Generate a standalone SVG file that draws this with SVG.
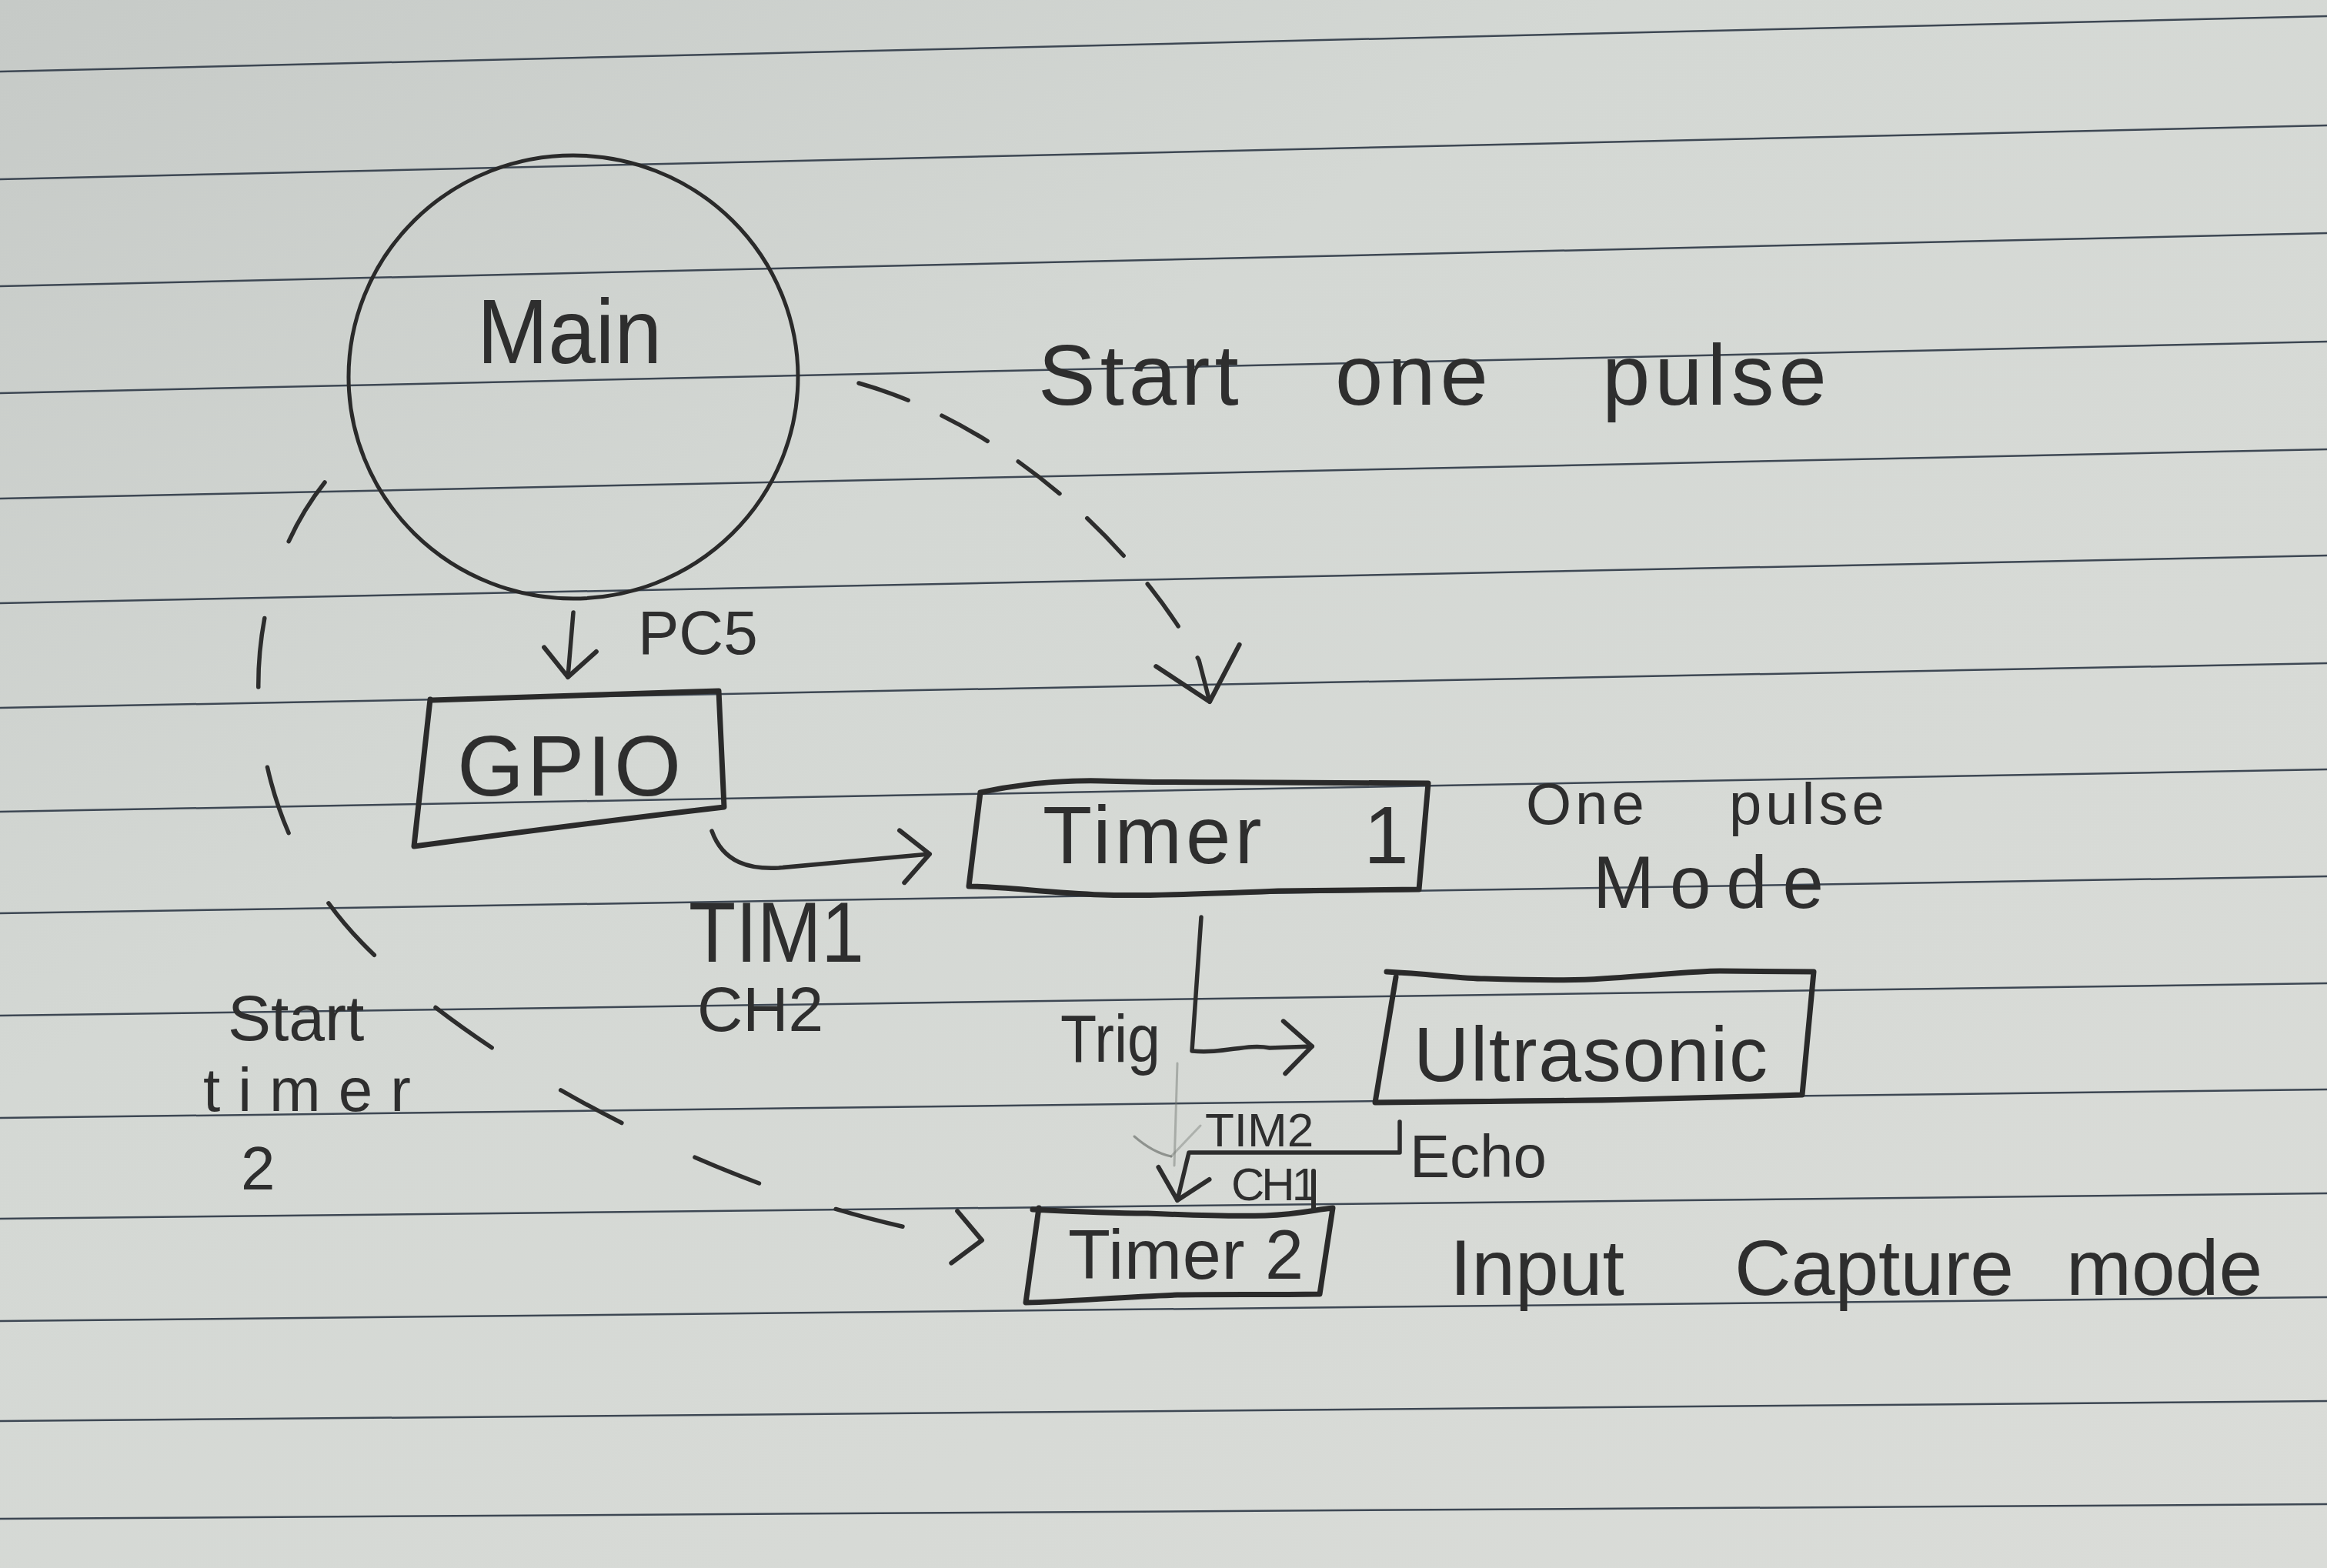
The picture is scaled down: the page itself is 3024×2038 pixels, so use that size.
<svg xmlns="http://www.w3.org/2000/svg" width="3024" height="2038" viewBox="0 0 3024 2038">
<defs>
<linearGradient id="paper" x1="0" y1="0" x2="1" y2="1">
<stop offset="0" stop-color="#c6cac7"/>
<stop offset="0.35" stop-color="#d4d8d4"/>
<stop offset="1" stop-color="#dadcd8"/>
</linearGradient>
<marker id="arrow" viewBox="-70 -70 80 140" refX="0" refY="0" markerWidth="80" markerHeight="140" markerUnits="userSpaceOnUse" orient="auto">
<path class="head" d="M-36,-34 L0,0 L-36,34"/>
</marker>
<marker id="arrow-lg" viewBox="-90 -90 100 180" refX="0" refY="0" markerWidth="100" markerHeight="180" markerUnits="userSpaceOnUse" orient="auto">
<path class="head" d="M-62,-56 L0,0 L-62,56"/>
</marker>
<style>
.rule{stroke:#3d4753;stroke-width:2.5;fill:none}
.box{fill:none;stroke:#2a2a2a;stroke-width:7;stroke-linejoin:round;stroke-linecap:round}
.conn{fill:none;stroke:#2d2d2d;stroke-width:5.5;stroke-linecap:round;stroke-linejoin:round}
.dash-s{stroke-dasharray:68 48}
.dash-l{stroke-dasharray:90 105}
.head{fill:none;stroke:#2d2d2d;stroke-width:6;stroke-linecap:round;stroke-linejoin:round}
.hw{font-family:"Liberation Sans","DejaVu Sans",sans-serif;fill:#2e2e2e}
.pencil{fill:none;stroke:#6f736f;stroke-width:3;stroke-linecap:round}
</style>
</defs>

<rect x="0" y="0" width="3024" height="2038" fill="url(#paper)"/>

<g id="paper-lines">
<line class="rule" x1="0" y1="93" x2="3024" y2="21"/>
<line class="rule" x1="0" y1="233" x2="3024" y2="163"/>
<line class="rule" x1="0" y1="372" x2="3024" y2="303"/>
<line class="rule" x1="0" y1="511" x2="3024" y2="444"/>
<line class="rule" x1="0" y1="648" x2="3024" y2="584"/>
<line class="rule" x1="0" y1="784" x2="3024" y2="722"/>
<line class="rule" x1="0" y1="920" x2="3024" y2="862"/>
<line class="rule" x1="0" y1="1055" x2="3024" y2="1000"/>
<line class="rule" x1="0" y1="1187" x2="3024" y2="1139"/>
<line class="rule" x1="0" y1="1320" x2="3024" y2="1278"/>
<line class="rule" x1="0" y1="1453" x2="3024" y2="1416"/>
<line class="rule" x1="0" y1="1584" x2="3024" y2="1551"/>
<line class="rule" x1="0" y1="1717" x2="3024" y2="1686"/>
<line class="rule" x1="0" y1="1847" x2="3024" y2="1821"/>
<line class="rule" x1="0" y1="1974" x2="3024" y2="1955"/>
</g>

<g id="node-main">
<ellipse class="box" cx="745" cy="490" rx="292" ry="288" style="stroke-width:5"/>
<text class="hw" x="620" y="472" font-size="118" textLength="240" lengthAdjust="spacingAndGlyphs">Main</text>
</g>

<g id="node-gpio">
<path class="box" d="M562,910 L934,898 L941,1049 Q760,1070 538,1100 L559,909"/>
<text class="hw" x="594" y="1034" font-size="112" textLength="291" lengthAdjust="spacing">GPIO</text>
</g>

<g id="node-timer1">
<path class="box" d="M1274,1030 C1330,1018 1380,1014 1431,1015 C1520,1018 1600,1016 1653,1017 L1856,1018 L1844,1156 C1760,1157 1700,1158 1661,1158 C1560,1162 1480,1165 1431,1163 C1360,1160 1300,1152 1259,1152 L1274,1030"/>
<text class="hw" x="1355" y="1122" font-size="105" letter-spacing="5">Timer<tspan x="1738"> 1</tspan></text>
</g>

<g id="node-ultrasonic">
<path class="box" d="M1802,1263 C1860,1266 1900,1272 1929,1272 C1990,1274 2040,1275 2082,1272 C2150,1268 2200,1262 2235,1262 L2357,1263 L2342,1423 C2250,1426 2150,1428 2082,1430 L1787,1433 L1814,1270"/>
<text class="hw" x="1837" y="1405" font-size="100" textLength="460" lengthAdjust="spacing">Ultrasonic</text>
</g>

<g id="node-timer2">
<path class="box" d="M1342,1572 C1400,1575 1450,1577 1491,1577 C1560,1580 1610,1581 1644,1580 C1690,1578 1710,1572 1732,1570 L1715,1682 C1650,1683 1580,1682 1530,1683 C1450,1686 1390,1692 1333,1693 L1350,1570"/>
<text class="hw" x="1388" y="1662" font-size="90" textLength="306" lengthAdjust="spacing">Timer 2</text>
</g>

<g id="connectors">
<path id="edge-main-timer1" class="conn dash-s" d="M1116,498 C1300,550 1470,700 1558,858 L1572,912" marker-end="url(#arrow-lg)"/>
<path id="edge-main-gpio" class="conn" d="M745,796 L738,880" marker-end="url(#arrow)"/>
<path id="edge-gpio-timer1" class="conn" d="M925,1080 C940,1122 975,1130 1012,1128 L1208,1110" marker-end="url(#arrow)"/>
<path id="edge-timer1-ultrasonic" class="conn" d="M1561,1192 L1549,1366 C1590,1370 1620,1356 1650,1362 L1705,1360" marker-end="url(#arrow)"/>
<path id="edge-ultrasonic-timer2" class="conn" d="M1819,1458 L1819,1498 L1545,1498 L1530,1560" marker-end="url(#arrow)"/>
<line id="edge-ch-tick" class="conn" x1="1707" y1="1522" x2="1707" y2="1572" style="stroke-width:6"/>
<path id="edge-main-timer2" class="conn dash-l" d="M422,627 C300,780 300,1050 470,1225 S1000,1580 1276,1612" marker-end="url(#arrow)"/>
</g>

<g id="pencil-marks">
<path class="pencil" d="M1530,1382 L1526,1515" opacity="0.45"/>
<path class="pencil" d="M1474,1477 Q1498,1498 1522,1503" opacity="0.7"/>
<path class="pencil" d="M1522,1503 Q1542,1482 1560,1463" opacity="0.4"/>
</g>

<g id="connector-labels">
<text class="hw" x="1349" y="526" font-size="112" letter-spacing="6">Start <tspan x="1735">one</tspan> <tspan x="2082">pulse</tspan></text>
<text class="hw" x="829" y="850" font-size="80">PC5</text>
<text class="hw" x="895" y="1250" font-size="112" textLength="228" lengthAdjust="spacingAndGlyphs">TIM1</text>
<text class="hw" x="906" y="1340" font-size="82">CH2</text>
<text class="hw" x="1378" y="1380" font-size="88" textLength="130" lengthAdjust="spacingAndGlyphs">Trig</text>
<text class="hw" x="1566" y="1490" font-size="62">TIM2</text>
<text class="hw" x="1600" y="1560" font-size="60" textLength="112" lengthAdjust="spacing">CH1</text>
<text class="hw" x="1832" y="1530" font-size="78">Echo</text>
<text class="hw" x="296" y="1352" font-size="84">Start</text>
<text class="hw" x="264" y="1444" font-size="80" textLength="270" lengthAdjust="spacing">timer</text>
<text class="hw" x="313" y="1546" font-size="80">2</text>
</g>

<g id="annotations">
<text class="hw" x="1983" y="1071" font-size="76" letter-spacing="5">One <tspan x="2247">pulse</tspan></text>
<text class="hw" x="2070" y="1180" font-size="96" textLength="300" lengthAdjust="spacing">Mode</text>
<text class="hw" x="1884" y="1683" font-size="102">Input <tspan x="2254">Capture</tspan> <tspan x="2685">mode</tspan></text>
</g>
</svg>
